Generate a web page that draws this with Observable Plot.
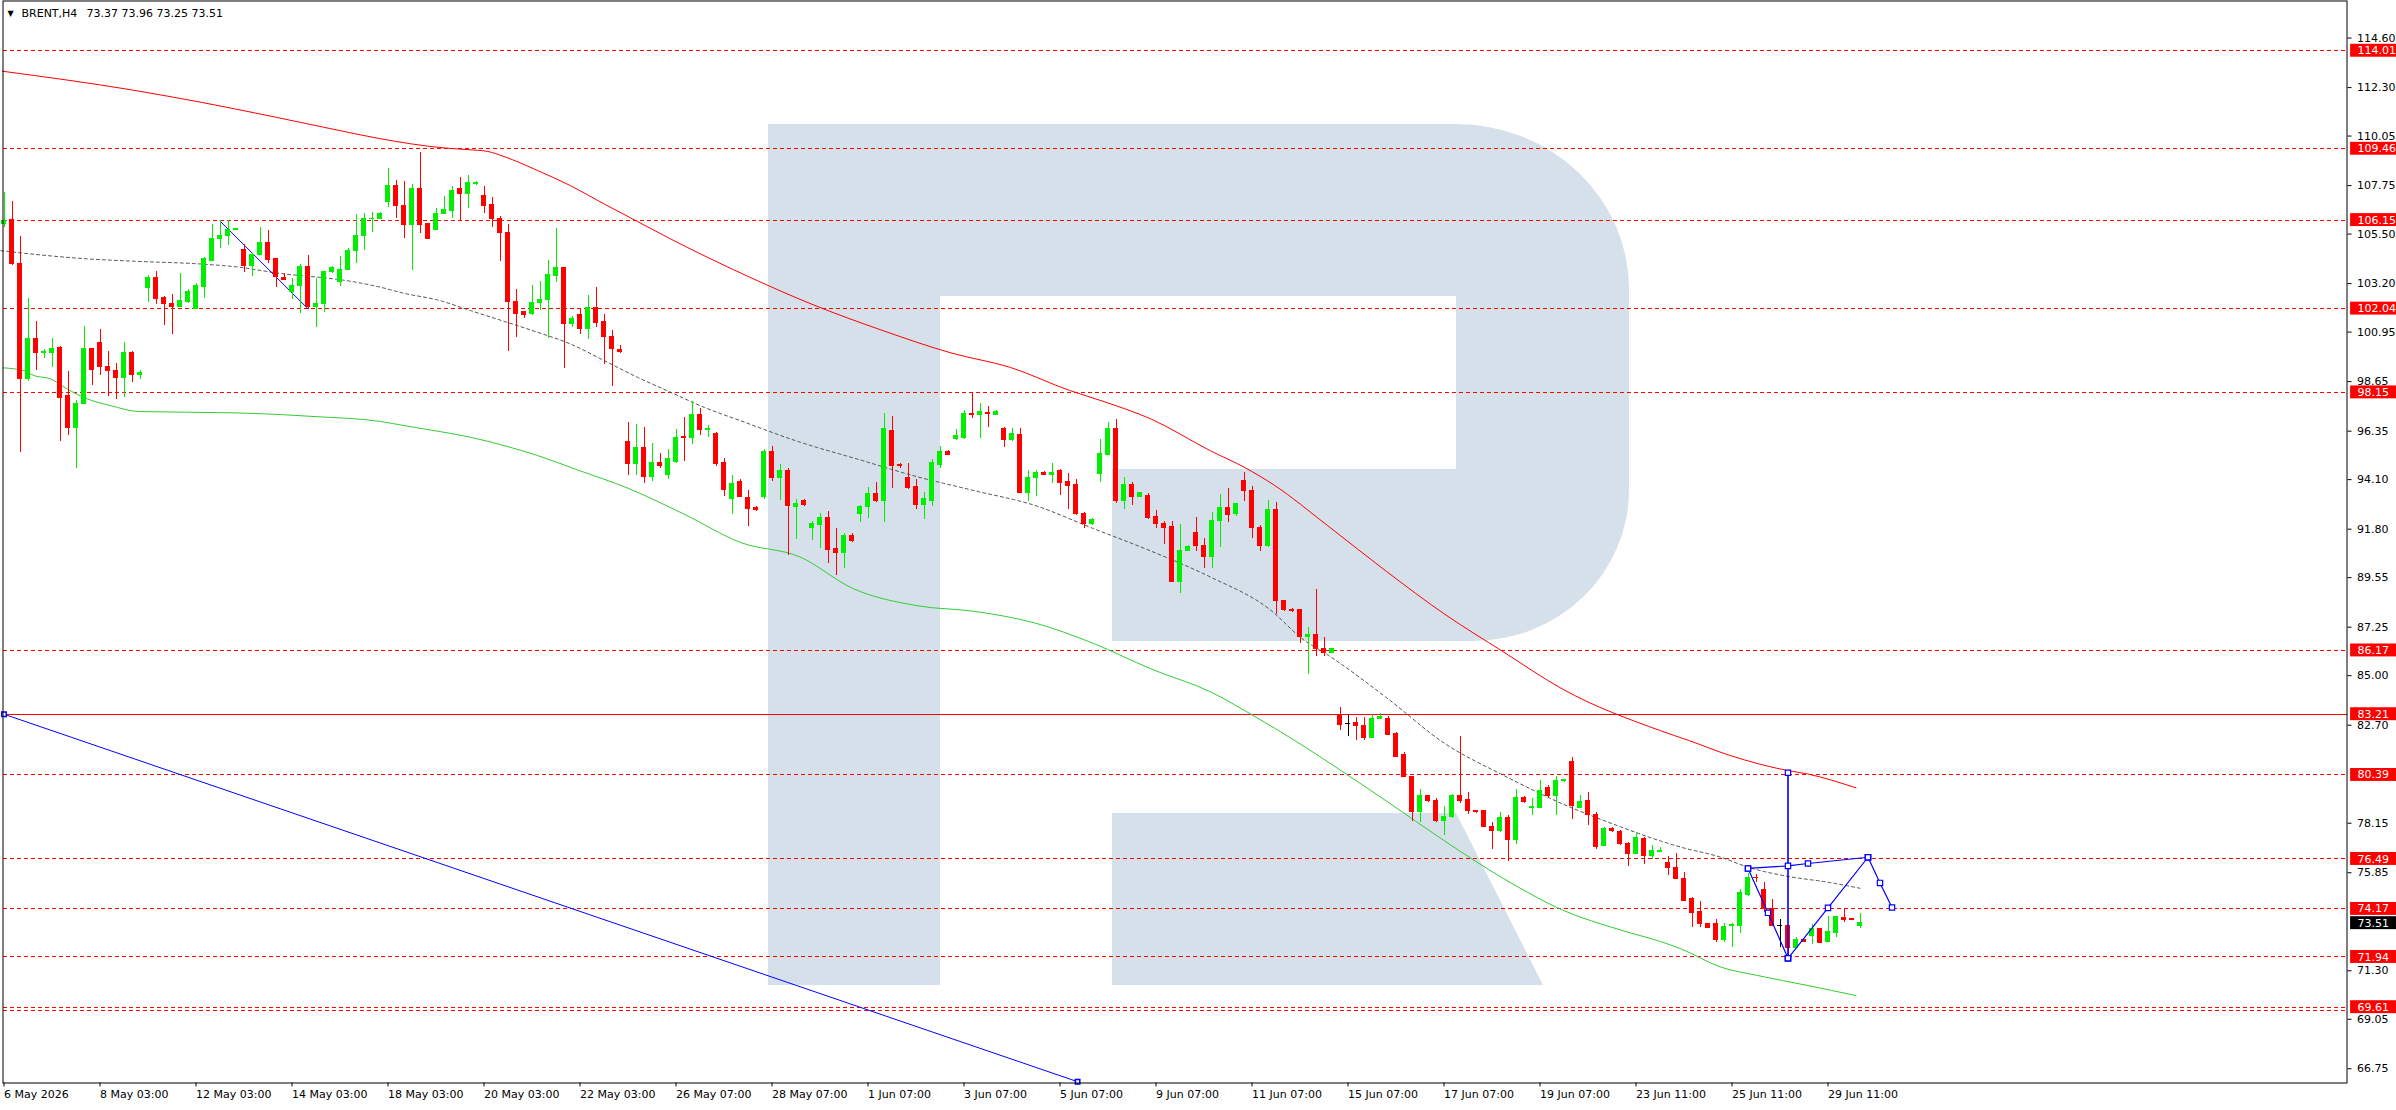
<!DOCTYPE html>
<html>
<head>
<meta charset="utf-8">
<script src="https://cdn.jsdelivr.net/npm/d3@7"></script>
<script src="https://cdn.jsdelivr.net/npm/@observablehq/plot@0.6"></script>
<style>
  body { margin: 0; background: #fff; }
  #chart svg { display: block; }
</style>
</head>
<body>
<div id="chart"></div>
<script>
// BRENT H4 bars (bar index 0 = 6 May 2026)
const opens = [
  105.97,106.17,104.11,98.76,100.63,99.98,99.97,100.21,97.96,96.49,
  97.61,100.17,100.46,99.35,99.16,98.81,100.00,98.95,102.98,103.48,
  102.51,102.27,102.10,102.33,102.03,103.03,104.24,105.26,105.40,105.68,
  104.78,104.01,104.53,105.10,104.32,103.48,102.80,103.11,103.99,102.10,
  102.26,103.73,103.26,103.82,104.70,105.40,106.18,106.19,106.98,107.75,
  106.82,105.94,107.61,105.99,105.71,106.42,106.55,107.57,107.35,107.84,
  107.26,106.87,106.22,105.57,102.35,101.86,101.81,102.29,102.43,103.57,
  103.91,101.31,101.72,101.07,102.09,101.41,100.74,100.14,95.87,94.83,
  95.59,94.20,94.86,94.30,94.94,96.07,96.02,97.12,96.39,96.24,
  94.86,93.20,93.98,93.26,92.78,93.31,95.39,94.19,94.48,92.83,
  93.10,91.84,91.98,92.32,90.86,90.70,91.50,92.51,92.83,93.42,
  93.10,96.37,94.80,94.19,93.74,92.91,93.12,94.80,95.39,95.98,
  96.05,97.17,97.12,97.20,97.12,96.46,95.92,96.19,93.50,94.19,
  94.43,94.32,94.48,93.98,93.84,92.51,92.03,94.38,95.26,96.46,
  93.10,93.84,93.31,93.36,92.38,92.06,91.92,89.37,90.80,91.63,
  91.04,90.51,92.16,92.78,92.51,94.03,93.58,91.84,91.04,92.70,
  88.46,88.06,88.03,86.78,86.91,86.25,86.06,83.18,82.76,82.78,
  82.65,82.12,83.00,82.97,82.30,81.32,80.30,78.65,79.40,79.18,
  78.25,78.44,79.40,79.24,78.73,78.70,77.98,77.77,78.38,77.37,
  79.32,78.84,78.86,79.77,79.40,80.09,80.97,78.86,79.18,78.52,
  77.10,77.90,77.72,77.18,76.73,77.42,76.62,76.83,76.28,76.09,
  75.58,74.61,74.04,73.49,73.45,72.75,73.40,73.37,74.84,75.61,
  75.03,74.18,73.40,73.40,72.36,72.74,72.91,73.22,72.63,73.05,
  73.76,73.70,73.37
];
const highs = [
  107.44,107.01,105.38,102.52,101.44,100.14,100.65,100.28,99.12,97.77,
  101.21,100.17,101.05,100.04,99.50,100.46,100.04,99.16,103.60,103.76,
  102.61,102.69,103.67,102.95,103.19,104.39,105.94,106.11,106.11,105.77,
  105.01,104.58,105.79,105.66,104.35,103.65,103.45,104.11,104.50,103.42,
  103.76,104.01,104.45,104.83,106.40,106.47,106.51,106.51,108.56,107.98,
  107.94,107.80,109.28,105.99,106.71,107.24,107.72,108.12,108.22,107.95,
  107.70,107.21,106.30,105.93,102.91,101.86,103.11,103.29,104.27,105.76,
  103.91,101.67,102.04,102.64,103.02,101.76,101.02,100.32,96.75,96.66,
  96.50,95.80,95.30,95.50,96.44,96.98,97.72,97.40,96.60,96.30,
  95.08,94.30,94.11,93.58,92.83,95.50,95.63,94.80,94.64,93.18,
  93.18,92.16,92.51,92.62,91.84,91.58,91.58,92.91,93.74,93.98,
  97.17,97.04,94.86,94.86,94.11,93.50,95.04,95.63,95.44,96.43,
  97.31,98.11,97.63,97.49,97.31,96.51,96.46,96.46,94.51,94.51,
  94.48,94.86,94.56,94.38,94.11,92.59,92.30,95.98,96.77,96.91,
  94.19,93.98,93.52,93.44,92.67,92.16,92.16,92.03,91.04,92.32,
  91.36,92.59,93.42,93.71,92.96,94.43,93.79,91.98,93.12,93.04,
  88.51,88.11,88.09,87.23,88.99,86.78,86.22,83.50,83.13,83.05,
  83.05,83.18,83.24,83.10,82.38,81.45,80.30,79.72,79.45,79.32,
  78.92,79.50,82.17,79.58,78.76,78.76,78.17,78.65,78.52,79.72,
  79.37,79.32,80.12,79.90,80.33,80.17,81.18,79.45,79.58,78.65,
  77.96,77.96,77.80,77.24,77.72,77.50,77.10,77.02,76.60,76.73,
  75.85,74.72,74.52,73.49,73.68,73.48,73.51,75.07,75.83,75.75,
  75.38,74.59,73.68,73.40,72.83,72.75,73.43,73.28,73.82,73.82,
  74.17,73.70,73.96
];
const lows = [
  105.79,104.04,95.37,98.67,99.16,99.72,99.32,95.88,96.16,94.60,
  97.61,98.47,98.93,97.97,97.83,97.92,98.62,98.76,102.32,102.24,
  101.25,100.85,102.10,102.26,102.03,102.52,104.24,104.84,104.97,105.68,
  103.73,103.54,104.50,104.15,103.03,103.37,102.47,101.79,101.98,101.17,
  101.87,103.68,103.08,103.82,104.15,104.75,105.58,106.19,106.75,106.20,
  105.31,103.80,105.54,105.28,105.66,106.41,106.23,106.11,106.68,107.75,
  106.45,105.82,104.24,100.06,100.71,101.59,101.70,101.95,100.63,103.26,
  99.27,101.17,100.85,100.60,101.16,99.46,98.44,99.97,94.30,94.30,
  93.90,94.00,94.60,94.10,94.86,94.95,95.73,96.16,96.07,94.72,
  93.30,92.50,93.26,91.92,92.64,93.18,94.03,93.12,90.56,91.31,
  92.83,91.26,90.91,90.22,89.63,89.98,91.18,92.11,92.30,93.04,
  92.11,93.68,94.64,93.63,92.70,92.24,92.86,94.64,95.23,95.92,
  95.98,96.96,96.03,96.51,97.09,95.58,95.87,93.44,93.10,93.31,
  94.27,93.90,93.36,92.72,92.43,91.82,91.98,93.98,95.26,92.99,
  92.70,92.91,93.26,92.24,91.84,91.10,89.31,88.83,90.75,90.78,
  89.98,89.98,90.96,92.11,92.38,93.10,91.36,90.75,90.96,87.85,
  87.98,87.93,86.51,85.05,85.90,85.90,86.06,82.44,82.17,81.98,
  81.98,82.06,82.97,82.20,81.18,80.25,78.25,78.17,79.13,78.20,
  77.58,78.38,79.05,78.57,78.62,77.93,76.92,77.72,76.39,77.18,
  79.08,78.52,78.81,79.34,78.52,80.06,78.30,78.81,78.06,76.92,
  77.05,77.74,77.13,76.12,76.68,76.22,76.47,76.83,75.72,75.55,
  74.52,73.32,73.32,73.29,72.60,72.61,72.36,73.01,74.76,75.41,
  74.02,73.37,72.40,71.78,72.32,72.62,72.50,72.58,72.63,72.83,
  73.53,73.65,73.25
];
const closes = [
  106.13,104.11,98.76,100.63,99.97,100.01,100.17,97.88,96.49,97.61,
  100.17,99.19,99.32,99.13,98.81,100.00,98.95,99.07,103.48,102.47,
  102.24,102.10,102.37,102.83,103.08,104.32,105.29,105.43,105.71,105.74,
  104.01,104.55,105.10,104.30,103.50,103.37,103.11,103.99,102.10,102.26,
  103.76,103.94,103.85,104.73,105.43,106.22,106.22,106.45,107.75,106.82,
  105.94,107.61,105.94,105.28,106.45,106.61,107.52,107.35,107.85,107.87,
  106.82,106.22,105.54,102.34,101.78,101.73,102.32,102.46,103.62,103.94,
  101.31,101.58,101.07,102.09,101.36,100.71,100.15,100.01,94.83,95.59,
  94.20,94.86,94.72,95.08,96.05,96.02,97.12,96.39,96.45,94.82,
  93.60,93.90,93.31,92.72,92.70,95.39,94.19,94.48,92.88,92.99,
  92.91,92.06,92.30,90.83,90.70,91.50,91.23,92.83,93.42,93.10,
  96.43,94.72,94.72,93.71,92.91,93.18,94.86,95.39,95.26,96.11,
  97.17,97.09,97.23,97.15,97.25,95.92,96.24,93.50,94.19,94.43,
  94.32,94.43,93.95,93.79,92.51,92.06,92.24,95.31,96.46,93.10,
  93.84,93.31,93.47,92.32,92.06,91.84,89.37,90.78,90.99,91.04,
  90.51,92.16,92.78,92.46,92.96,93.58,91.84,91.04,92.70,88.46,
  88.03,87.98,86.78,86.91,86.25,86.06,86.22,82.70,82.76,82.65,
  82.12,82.97,83.10,82.25,81.24,80.30,78.65,79.40,79.18,78.25,
  78.44,79.40,79.18,78.70,78.65,77.98,77.77,78.38,77.37,79.32,
  79.13,78.92,79.64,79.40,80.09,80.14,78.97,79.13,78.52,77.05,
  77.90,77.80,77.18,76.73,77.45,76.62,76.84,76.85,76.06,75.55,
  74.56,74.00,73.46,73.29,72.75,73.35,73.43,74.89,75.60,75.59,
  74.15,73.37,73.40,72.36,72.74,72.63,73.22,72.61,73.12,73.79,
  73.66,73.65,73.51
];

// moving averages / dotted line, [bar, price]
const redMa = [
  [-0.2,113.06],[16,112.19],[24.6,111.62],[33,111.0],[41,110.38],[46.7,109.95],
  [55,109.5],[58,109.42],[60.4,109.34],[62.5,109.1],[66.7,108.45],[70.8,107.75],
  [75,106.9],[79.2,106.08],[83.3,105.28],[87.5,104.5],[92.5,103.62],[101,102.24],
  [109.7,101.04],[118.5,99.97],[125.8,99.31],[133.2,98.24],[137.6,97.71],[143.4,96.91],
  [150.8,95.44],[155.2,94.64],[158.8,93.84],[165.4,91.98],[172.8,89.84],[180.1,87.85],
  [187.4,86.11],[194.8,84.38],[207.1,82.44],[210.6,81.99],[215.8,81.29],[222.9,80.6],
  [225.4,80.44],[231.5,79.79]
];
const greenMa = [
  [-0.1,99.29],[2.5,99.16],[3.75,98.93],[5.8,98.78],[7.9,98.31],[10.4,97.85],
  [13.3,97.54],[16.9,97.26],[28.75,97.2],[34.6,97.12],[38.75,97.03],[47.1,96.8],
  [50,96.61],[54.2,96.35],[58.3,96.07],[62.5,95.68],[66.7,95.22],[71.7,94.55],
  [78,93.7],[85,92.5],[92.1,91.18],[99.5,90.51],[106.1,89.05],[114.1,88.25],
  [121.4,87.98],[128.8,87.45],[136.1,86.51],[143.4,85.31],[150.8,84.25],[156.6,83.05],
  [162.5,81.72],[166.9,80.65],[172.8,79.18],[180.1,77.32],[187.4,75.59],[194.8,74.12],
  [202.1,73.19],[207.1,72.65],[209.6,72.32],[214.6,71.47],[219.2,71.08],[225.4,70.62],
  [231.5,70.15]
];
const dottedLine = [
  [-0.4,104.73],[4.6,104.53],[10.4,104.35],[16.25,104.24],[24.6,104.11],[28.75,103.99],
  [35,103.65],[39.2,103.5],[41.25,103.42],[47.1,103.03],[50,102.75],[54.2,102.44],
  [58.3,101.95],[62.5,101.45],[66.7,100.94],[70.8,100.4],[75,99.63],[79.2,98.85],
  [83.3,98.16],[87.5,97.46],[92.1,96.83],[99.5,95.84],[106.8,95.04],[114.1,94.24],
  [121.4,93.58],[128.8,92.91],[136.1,91.84],[143.4,90.78],[150.8,89.58],[158.1,88.11],
  [162.5,86.65],[165.4,85.98],[172.8,83.98],[180.1,81.85],[187.4,80.38],[194.8,79.05],
  [202.1,77.98],[207.1,77.32],[209.6,77.04],[214.6,76.57],[218,76.11],[223,75.68],
  [228,75.41],[232,75.13]
];

// drawn objects
const bigTrend = [[0,83.21],[134.2,66.15]];
const smallTrend = [[27,106.11],[38,102.03]];
const zigDown = [[218,76.05],[220.5,73.99],[223,71.88]];
const zigUp = [[223,71.88],[228,74.22],[233,76.57]];
const zigTop = [[218,76.05],[223,76.17],[225.5,76.28],[233,76.57]];
const zigTail = [[233,76.57],[234.5,75.38],[236,74.24]];
const zigStem = [[223,80.49],[223,71.88]];

const dashedLevels = [114.01,109.46,106.15,102.04,98.15,86.17,80.39,76.49,74.17,71.94,69.61,69.47];
const solidLevels = [83.21];
const levelLabels = [114.01,109.46,106.15,102.04,98.15,86.17,83.21,80.39,76.49,74.17,71.94,69.61];
const lastPrice = 73.51;

const yTicks = [66.75,69.05,71.30,75.85,78.15,82.70,85.00,87.25,89.55,91.80,94.10,
  96.35,98.65,100.95,103.20,105.50,107.75,110.05,112.30,114.60];
const xTickIdx = d3.range(0, 229, 12);
const xTickLabels = ["6 May 2026","8 May 03:00","12 May 03:00","14 May 03:00","18 May 03:00",
  "20 May 03:00","22 May 03:00","26 May 07:00","28 May 07:00","1 Jun 07:00","3 Jun 07:00",
  "5 Jun 07:00","9 Jun 07:00","11 Jun 07:00","15 Jun 07:00","17 Jun 07:00","19 Jun 07:00",
  "23 Jun 11:00","25 Jun 11:00","29 Jun 11:00"];
const titleSymbol = "BRENT,H4";
const titleValues = "73.37 73.96 73.25 73.51";

const bull = "#00ee00", bear = "#ff0000";
const xMax = 292.875;
const pt = ([i, p]) => ({i, p});
const candles = opens.map((o, i) => ({i, open: o, high: highs[i], low: lows[i], close: closes[i]}));
const candleColor = d => d.close > d.open ? bull : d.close < d.open ? bear : "#000";
const zigPoints = [...zigDown, ...zigUp, ...zigTop, ...zigTail, ...zigStem].map(pt);
const tickName = new Map(xTickIdx.map((d, k) => [d, xTickLabels[k]]));

// watermark "R" in screen pixels (decoration, not data)
function logoMark() {
  const d = "M768,124H1456A173,165 0 0 1 1629,289V490A156,151 0 0 1 1473,641H1112V469H1456V296H940V985H768Z" +
            "M1112,813H1456L1543,985H1112Z";
  return d3.create("svg:path").attr("d", d).attr("fill", "#d6e0eb").node();
}

const blueLine = (arr, w = 1.2) => Plot.line(arr.map(pt), {x: "i", y: "p", stroke: "#0000ff", strokeWidth: w});

let chart = Plot.plot({
  width: 2396,
  height: 1110,
  marginLeft: 2.5,
  marginRight: 49.5,
  marginTop: 0.5,
  marginBottom: 27.5,
  x: {domain: [-0.125, xMax], label: null},
  y: {domain: [66.09, 116.32], label: null},
  style: {fontFamily: "'DejaVu Sans', sans-serif", fontSize: "11px", color: "black", background: "white"},
  marks: [
    logoMark,
    Plot.ruleY(dashedLevels, {stroke: "#ff0000", strokeDasharray: "4,3", shapeRendering: "crispEdges"}),
    Plot.ruleY(solidLevels, {stroke: "#ff0000", shapeRendering: "crispEdges"}),
    Plot.line(greenMa.map(pt), {x: "i", y: "p", stroke: "#33cc33", strokeWidth: 1, curve: "monotone-x"}),
    Plot.line(redMa.map(pt), {x: "i", y: "p", stroke: "#ff0000", strokeWidth: 1, curve: "monotone-x"}),
    Plot.line(dottedLine.map(pt), {x: "i", y: "p", stroke: "#555", strokeWidth: 1, strokeDasharray: "3,3", curve: "monotone-x"}),
    blueLine(bigTrend, 1),
    blueLine(smallTrend, 1),
    Plot.ruleX(candles, {x: "i", y1: "low", y2: "high", stroke: candleColor, shapeRendering: "crispEdges"}),
    Plot.rect(candles, {
      x1: d => d.i - 0.3125, x2: d => d.i + 0.3125, y1: "open", y2: "close",
      fill: candleColor, insetTop: -0.5, insetBottom: -0.5, shapeRendering: "crispEdges"
    }),
    blueLine(zigDown), blueLine(zigUp), blueLine(zigTop), blueLine(zigTail), blueLine(zigStem, 1.6),
    Plot.dot(zigPoints, {x: "i", y: "p", symbol: "square", r: 3, fill: "white", stroke: "#0000ff", strokeWidth: 1.2}),
    Plot.dot(bigTrend.map(pt), {x: "i", y: "p", symbol: "square", r: 2.5, fill: "white", stroke: "#0000ff"}),
    Plot.frame({stroke: "black"}),
    Plot.axisY({anchor: "right", ticks: yTicks, tickFormat: d => d.toFixed(2), tickSize: 4, tickPadding: 6, label: null, fill: "black"}),
    Plot.axisX({anchor: "bottom", ticks: xTickIdx, tickFormat: d => tickName.get(d), tickSize: 4, tickPadding: 3,
      textAnchor: "start", label: null, fill: "black"}),
    Plot.rect(levelLabels, {x1: xMax + 0.45, x2: xMax + 6.3, y1: d => d - 0.3, y2: d => d + 0.3, fill: "#ff0000"}),
    Plot.text(levelLabels, {x: xMax + 1.3, y: d => d, text: d => d.toFixed(2), fill: "white", textAnchor: "start", fontSize: 11}),
    Plot.rect([lastPrice], {x1: xMax + 0.45, x2: xMax + 6.3, y1: d => d - 0.3, y2: d => d + 0.3, fill: "#000"}),
    Plot.text([lastPrice], {x: xMax + 1.3, y: d => d, text: d => d.toFixed(2), fill: "white", textAnchor: "start", fontSize: 11}),
    Plot.text(["▼"], {frameAnchor: "top-left", dx: 4.5, dy: 9, text: d => d, fontSize: 8, fill: "black", textAnchor: "start"}),
    Plot.text([titleSymbol], {frameAnchor: "top-left", dx: 18.5, dy: 8, text: d => d, fontSize: 11, fill: "black", textAnchor: "start"}),
    Plot.text([titleValues], {frameAnchor: "top-left", dx: 83.5, dy: 8, text: d => d, fontSize: 11, fill: "black", textAnchor: "start"})
  ]
});

d3.select('#chart').append(() => chart);
</script>
</body>
</html>
